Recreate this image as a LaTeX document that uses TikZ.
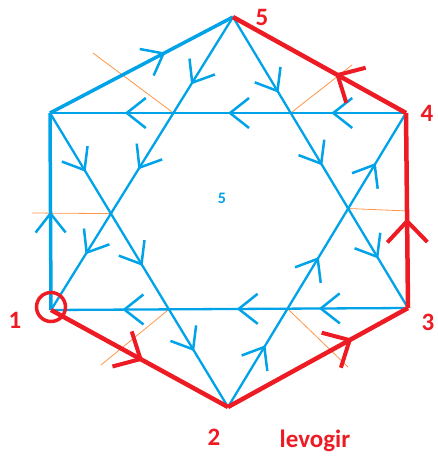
\documentclass[tikz,border=0pt]{standalone}
\usepackage{fontspec}
\setmainfont{Carlito}
\usetikzlibrary{arrows.meta,decorations.markings}
\definecolor{paintblue}{RGB}{0,162,232}
\definecolor{paintred}{RGB}{237,28,36}
\definecolor{paintorange}{RGB}{255,150,70}
\tikzset{
 tip/.style={postaction={decorate,decoration={markings,mark=at position #1 with {\arrow{Straight Barb[length=19pt,width=30pt,line width=2.5pt]}}}}},
 bigtip/.style={postaction={decorate,decoration={markings,mark=at position #1 with {\arrow{Straight Barb[length=21pt,width=40pt,line width=4pt]}}}}},
 inner/.style={paintblue,line width=2.3pt},
 rim/.style={paintblue,line width=3.5pt},
 walk/.style={paintred,line width=4.5pt,line join=round},
 cut/.style={paintorange,line width=.8pt},
 num/.style={paintred,font=\fontsize{25}{30}\selectfont\bfseries},
}
\begin{document}
\begin{tikzpicture}[x=1pt,y=-1pt]
 \useasboundingbox (0,0) rectangle (437,462);
 \coordinate (v1) at (51,310); \coordinate (v2) at (228,407); \coordinate (v3) at (408,308);
 \coordinate (v4) at (406,113); \coordinate (v5) at (233,17); \coordinate (v6) at (50,113);
 % crossings of the star
 \coordinate (a) at (intersection of v5--v1 and v6--v4); \coordinate (b) at (intersection of v5--v3 and v6--v4);
 \coordinate (c) at (intersection of v5--v1 and v6--v2); \coordinate (d) at (intersection of v5--v3 and v2--v4);
 \coordinate (e) at (intersection of v6--v2 and v1--v3); \coordinate (f) at (intersection of v2--v4 and v1--v3);
 \coordinate (ca) at (93,53); \coordinate (cb) at (352,65); \coordinate (cc) at (32,213);
 \coordinate (cd) at (408,211); \coordinate (ce) at (101,365); \coordinate (cf) at (348,367);
 \foreach \p in {a,b,c,d,e,f}{\draw[cut] (\p) -- (c\p);}
 % star
 \draw[inner,tip=.23,tip=.52,tip=.81] (v5) -- (v1);
 \draw[inner,tip=.2,tip=.52,tip=.81] (v6) -- (v2);
 \draw[inner,tip=.26,tip=.51,tip=.83] (v5) -- (v3);
 \draw[inner,tip=.21,tip=.51,tip=.83] (v2) -- (v4);
 \draw[inner,tip=.21,tip=.5,tip=.79] (v4) -- (v6);
 \draw[inner,tip=.25,tip=.48,tip=.8] (v3) -- (v1);
 \draw[rim,tip=.5] (v1) -- (v6);
 \draw[rim,tip=.63] (v6) -- (v5);
 % red path
 \draw[walk,bigtip=.52] (v1) -- (v2);
 \draw[walk,bigtip=.69] (v2) -- (v3);
 \draw[walk,bigtip=.46] (v3) -- (v4);
 \draw[walk,bigtip=.41] (v4) -- (v5);
 \node[circle,draw=paintred,line width=3.5pt,minimum size=29pt] (ring) at ([yshift=3pt]v1) {};
 \foreach \n/\x/\y in {1/15/320,2/214/437,3/428/322,4/427/113,5/262/17}{\node[num] (l\n) at (\x,\y) {\n};}
 \node[paintred,font=\fontsize{25}{30}\selectfont\bfseries] (word) at (315,441) {levogir};
 \node[paintblue,font=\fontsize{16}{18}\selectfont\bfseries] (mid) at (222,198) {5};
\end{tikzpicture}
\end{document}
